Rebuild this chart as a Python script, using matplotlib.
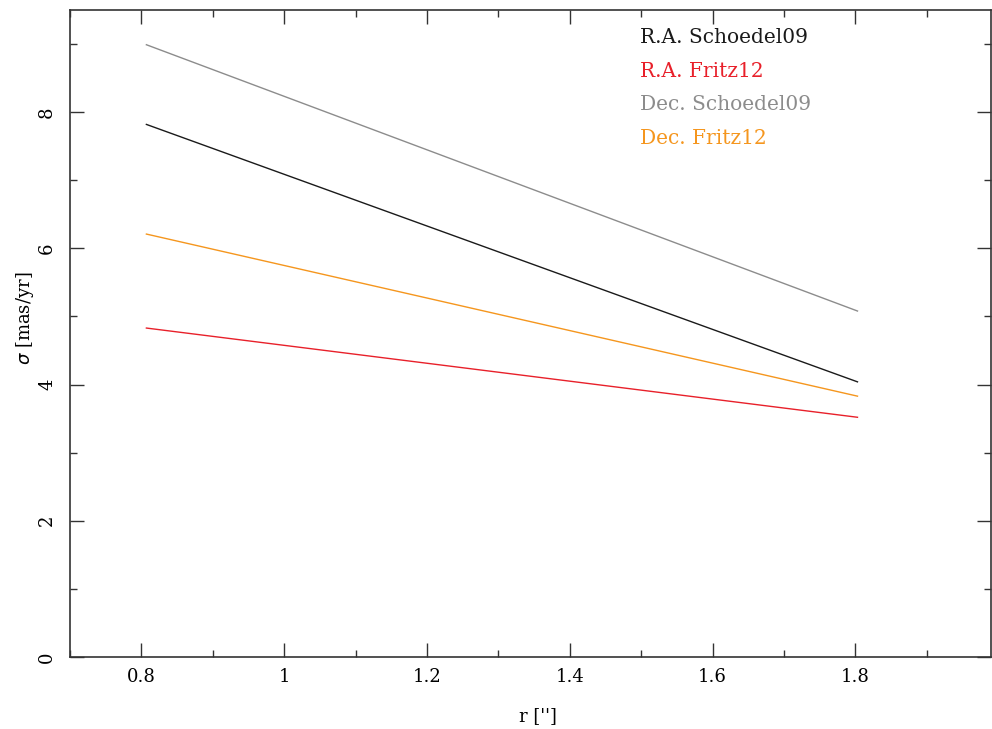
import matplotlib
matplotlib.use("Agg")
import matplotlib.pyplot as plt
from matplotlib.ticker import MultipleLocator

r_pts = [0.807, 1.803]
ra_schoedel09 = [7.82, 4.04]
ra_fritz12 = [4.83, 3.52]
dec_schoedel09 = [8.99, 5.08]
dec_fritz12 = [6.21, 3.83]

series = [
    ("R.A. Schoedel09", ra_schoedel09, "#1a1a1a"),
    ("R.A. Fritz12", ra_fritz12, "#e8202a"),
    ("Dec. Schoedel09", dec_schoedel09, "#8c8c8c"),
    ("Dec. Fritz12", dec_fritz12, "#f5961e"),
]

plt.rcParams['font.family'] = ['DejaVu Serif']
fig = plt.figure(figsize=(9.92, 7.29), dpi=100)
ax = fig.add_axes([70/992, 1-657/729, (991-70)/992, (657-10)/729])

for label, vals, col in series:
    ax.plot(r_pts, vals, color=col, lw=1.0)

ax.set_xlim(0.7, 1.99)
ax.set_ylim(0, 9.5)
ax.xaxis.set_major_locator(MultipleLocator(0.2))
ax.xaxis.set_minor_locator(MultipleLocator(0.1))
ax.yaxis.set_major_locator(MultipleLocator(2))
ax.yaxis.set_minor_locator(MultipleLocator(1))
ax.tick_params(which='both', direction='in', top=True, right=True, color='#333333', labelsize=13)
ax.tick_params(which='major', length=10, width=1)
ax.tick_params(which='minor', length=5, width=1)
ax.set_xticks([0.8, 1.0, 1.2, 1.4, 1.6, 1.8])
ax.set_xticklabels(["0.8", "1", "1.2", "1.4", "1.6", "1.8"])
ax.set_yticks([0, 2, 4, 6, 8])
ax.set_yticklabels(["0", "2", "4", "6", "8"], rotation=90, va='center')
ax.tick_params(axis='x', pad=8)
ax.tick_params(axis='y', pad=10)
for s in ax.spines.values():
    s.set_color('#333333')
    s.set_linewidth(1.2)

fig.text(538/992, 1-716/729, "r ['']", fontsize=13, ha='center', va='center')
fig.text(25/992, 1-318/729, r"$\sigma$ [mas/yr]", fontsize=13, ha='center', va='center', rotation=90)

ys = [9.09, 8.6, 8.11, 7.61]
for (label, vals, col), y in zip(series, ys):
    ax.text(1.498, y, label, color=col, fontsize=14.5, va='center', ha='left')

fig.savefig("out.png", dpi=100)
